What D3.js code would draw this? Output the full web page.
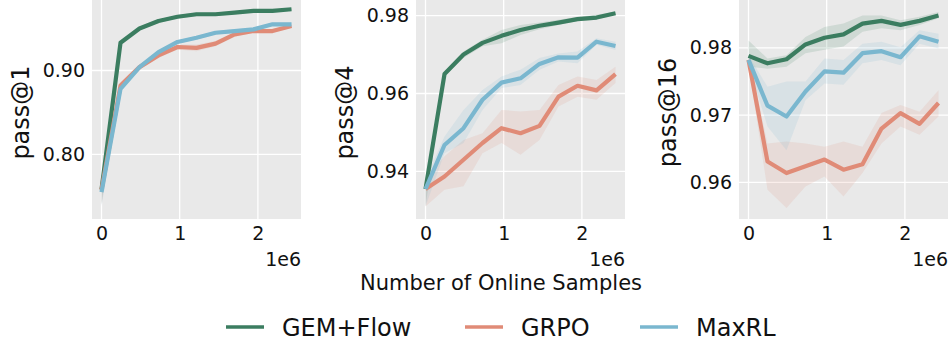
<!DOCTYPE html>
<html lang="en">
<head>
<meta charset="UTF-8">
<title>pass@k vs online samples</title>
<script src="https://d3js.org/d3.v7.min.js"></script>
<style>
  body { margin: 0; background: #fff; }
  svg { display: block; font-family: "DejaVu Sans", sans-serif; }
  .tick text { fill: #111; }
</style>
</head>
<body>
<div id="chart"></div>
<script>
// sample counts (in units of 1e6)
var steps = [0, 0.243, 0.486, 0.729, 0.972, 1.215, 1.458, 1.701, 1.944, 2.187, 2.43];
var xTicks = [0, 1, 2];

var metrics = ["pass@1", "pass@4", "pass@16"];
var methods = ["GEM+Flow", "GRPO", "MaxRL"];
var colors = ["#3b7d60", "#e08b77", "#7ab7cf"];

var yTicks1 = [0.80, 0.90];
var yTicks4 = [0.94, 0.96, 0.98];
var yTicks16 = [0.96, 0.97, 0.98];
var yDomain1 = [0.723, 0.984];
var yDomain4 = [0.9278, 0.984];
var yDomain16 = [0.95457, 0.9871];

// pass@1
var gem1     = [0.758, 0.933, 0.950, 0.959, 0.964, 0.967, 0.967, 0.969, 0.971, 0.971, 0.973];
var gem1Lo   = [0.740, 0.931, 0.948, 0.957, 0.962, 0.965, 0.965, 0.967, 0.969, 0.970, 0.972];
var gem1Hi   = [0.770, 0.935, 0.952, 0.961, 0.966, 0.969, 0.969, 0.971, 0.972, 0.973, 0.974];
var grpo1    = [0.758, 0.882, 0.904, 0.918, 0.928, 0.927, 0.932, 0.943, 0.947, 0.947, 0.953];
var grpo1Lo  = [0.740, 0.879, 0.901, 0.915, 0.925, 0.923, 0.929, 0.940, 0.945, 0.945, 0.951];
var grpo1Hi  = [0.770, 0.886, 0.907, 0.921, 0.931, 0.931, 0.935, 0.946, 0.949, 0.949, 0.955];
var maxrl1   = [0.755, 0.878, 0.904, 0.922, 0.934, 0.939, 0.945, 0.947, 0.949, 0.955, 0.955];
var maxrl1Lo = [0.738, 0.875, 0.902, 0.920, 0.932, 0.937, 0.943, 0.945, 0.947, 0.953, 0.953];
var maxrl1Hi = [0.768, 0.881, 0.906, 0.924, 0.936, 0.941, 0.947, 0.949, 0.951, 0.957, 0.957];

// pass@4
var gem4     = [0.9355, 0.9650, 0.9700, 0.9730, 0.9748, 0.9763, 0.9774, 0.9782, 0.9791, 0.9795, 0.9806];
var gem4Lo   = [0.9310, 0.9644, 0.9691, 0.9721, 0.9729, 0.9750, 0.9765, 0.9776, 0.9786, 0.9789, 0.9802];
var gem4Hi   = [0.9380, 0.9656, 0.9708, 0.9738, 0.9763, 0.9776, 0.9782, 0.9789, 0.9797, 0.9802, 0.9810];
var grpo4    = [0.9355, 0.9387, 0.9430, 0.9473, 0.9511, 0.9498, 0.9517, 0.9592, 0.9620, 0.9608, 0.9650];
var grpo4Lo  = [0.9310, 0.9353, 0.9362, 0.9447, 0.9473, 0.9443, 0.9481, 0.9567, 0.9592, 0.9584, 0.9627];
var grpo4Hi  = [0.9380, 0.9439, 0.9481, 0.9498, 0.9558, 0.9554, 0.9558, 0.9622, 0.9644, 0.9635, 0.9669];
var maxrl4   = [0.9355, 0.9468, 0.9511, 0.9584, 0.9628, 0.9639, 0.9676, 0.9693, 0.9692, 0.9733, 0.9722];
var maxrl4Lo = [0.9310, 0.9447, 0.9473, 0.9558, 0.9614, 0.9622, 0.9661, 0.9682, 0.9678, 0.9725, 0.9712];
var maxrl4Hi = [0.9380, 0.9490, 0.9558, 0.9609, 0.9644, 0.9661, 0.9691, 0.9703, 0.9708, 0.9742, 0.9733];

// pass@16
var gem16     = [0.9788, 0.9777, 0.9783, 0.9805, 0.9815, 0.9820, 0.9836, 0.9840, 0.9834, 0.9840, 0.9848];
var gem16Lo   = [0.9772, 0.9769, 0.9772, 0.9792, 0.9797, 0.9802, 0.9824, 0.9829, 0.9826, 0.9834, 0.9844];
var gem16Hi   = [0.9811, 0.9784, 0.9789, 0.9816, 0.9831, 0.9836, 0.9848, 0.9848, 0.9841, 0.9846, 0.9853];
var grpo16    = [0.9782, 0.9631, 0.9614, 0.9624, 0.9634, 0.9619, 0.9627, 0.9680, 0.9703, 0.9687, 0.9718];
var grpo16Lo  = [0.9774, 0.9589, 0.9562, 0.9594, 0.9609, 0.9579, 0.9614, 0.9658, 0.9683, 0.9671, 0.9698];
var grpo16Hi  = [0.9790, 0.9658, 0.9661, 0.9658, 0.9653, 0.9661, 0.9653, 0.9703, 0.9715, 0.9705, 0.9737];
var maxrl16   = [0.9782, 0.9714, 0.9698, 0.9735, 0.9765, 0.9763, 0.9792, 0.9795, 0.9786, 0.9817, 0.9809];
var maxrl16Lo = [0.9774, 0.9683, 0.9648, 0.9722, 0.9747, 0.9745, 0.9777, 0.9782, 0.9774, 0.9806, 0.9799];
var maxrl16Hi = [0.9789, 0.9742, 0.9750, 0.9750, 0.9784, 0.9782, 0.9806, 0.9809, 0.9801, 0.9826, 0.9821];

var panels = [
  { label: metrics[0], ticks: yTicks1, domain: yDomain1,
    series: [[gem1, gem1Lo, gem1Hi], [grpo1, grpo1Lo, grpo1Hi], [maxrl1, maxrl1Lo, maxrl1Hi]] },
  { label: metrics[1], ticks: yTicks4, domain: yDomain4,
    series: [[gem4, gem4Lo, gem4Hi], [grpo4, grpo4Lo, grpo4Hi], [maxrl4, maxrl4Lo, maxrl4Hi]] },
  { label: metrics[2], ticks: yTicks16, domain: yDomain16,
    series: [[gem16, gem16Lo, gem16Hi], [grpo16, grpo16Lo, grpo16Hi], [maxrl16, maxrl16Lo, maxrl16Hi]] }
];

var W = 950, H = 343;
var lefts = [92, 416, 739], pw = 209, plotTop = 0, ph = 219;

var svg = d3.select("#chart").append("svg")
    .attr("width", W).attr("height", H);

var x = d3.scaleLinear().domain([-0.1215, 2.5515]).range([0, pw]);

panels.forEach(function(p, pi) {
  var g = svg.append("g").attr("transform", "translate(" + lefts[pi] + "," + plotTop + ")");
  var y = d3.scaleLinear().domain(p.domain).range([ph, 0]);

  g.append("rect").attr("width", pw).attr("height", ph).attr("fill", "#e9e9e9");

  // grid
  g.append("g").selectAll("line").data(xTicks).enter().append("line")
      .attr("x1", d => x(d)).attr("x2", d => x(d))
      .attr("y1", 0).attr("y2", ph)
      .attr("stroke", "#fff").attr("stroke-width", 1.3);
  g.append("g").selectAll("line").data(p.ticks).enter().append("line")
      .attr("x1", 0).attr("x2", pw)
      .attr("y1", d => y(d)).attr("y2", d => y(d))
      .attr("stroke", "#fff").attr("stroke-width", 1.3);

  // axes (labels only)
  var ax = g.append("g").attr("transform", "translate(0," + ph + ")")
      .call(d3.axisBottom(x).tickValues(xTicks).tickFormat(d3.format("d")).tickSize(0).tickPadding(8));
  ax.select(".domain").remove();
  ax.selectAll("text").attr("font-size", 19).attr("font-family", "DejaVu Sans");

  var ay = g.append("g")
      .call(d3.axisLeft(y).tickValues(p.ticks).tickFormat(d3.format(".2f")).tickSize(0).tickPadding(7));
  ay.select(".domain").remove();
  ay.selectAll("text").attr("font-size", 19).attr("font-family", "DejaVu Sans");

  g.append("text").attr("x", pw).attr("y", ph + 47)
      .attr("text-anchor", "end").attr("font-size", 19).attr("fill", "#111").text("1e6");

  g.append("text")
      .attr("transform", "translate(-63," + (ph / 2 + 3) + ")rotate(-90)")
      .attr("text-anchor", "middle").attr("font-size", 24).attr("fill", "#111")
      .text(p.label);

  var clip = "clip" + pi;
  g.append("clipPath").attr("id", clip).append("rect").attr("width", pw).attr("height", ph);
  var plot = g.append("g").attr("clip-path", "url(#" + clip + ")");

  p.series.forEach(function(s, si) {
    var area = d3.area()
        .x((d, i) => x(steps[i]))
        .y0((d, i) => y(s[1][i]))
        .y1((d, i) => y(s[2][i]));
    plot.append("path").datum(s[0]).attr("d", area)
        .attr("fill", colors[si]).attr("fill-opacity", 0.15);
  });
  p.series.forEach(function(s, si) {
    var line = d3.line().x((d, i) => x(steps[i])).y(d => y(d));
    plot.append("path").datum(s[0]).attr("d", line)
        .attr("fill", "none").attr("stroke", colors[si])
        .attr("stroke-width", 4.2).attr("stroke-linejoin", "round");
  });
});

svg.append("text").attr("x", 501).attr("y", 290)
    .attr("text-anchor", "middle").attr("font-size", 21).attr("fill", "#111")
    .text("Number of Online Samples");

// legend
var legX = [226, 465, 640];
var leg = svg.append("g").selectAll("g").data(methods).enter().append("g")
    .attr("transform", (d, i) => "translate(" + legX[i] + ",327)");
leg.append("line").attr("x1", 0).attr("x2", 38)
    .attr("stroke", (d, i) => colors[i]).attr("stroke-width", 3.5);
leg.append("text").attr("x", 56).attr("y", 9)
    .attr("font-size", 24).attr("fill", "#111").text(d => d);
</script>
</body>
</html>
